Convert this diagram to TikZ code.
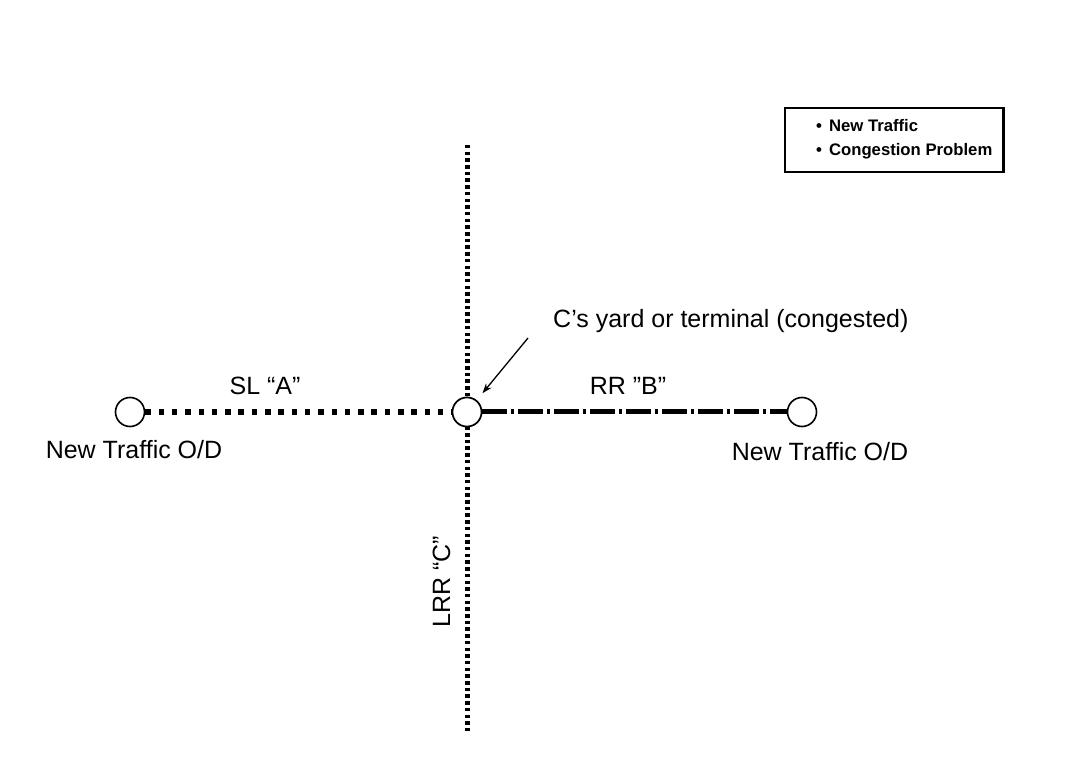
\documentclass[tikz,border=0pt]{standalone}
\usepackage{fontspec}
\setmainfont{Liberation Sans}
\usetikzlibrary{arrows.meta}
\begin{document}
\begin{tikzpicture}[x=1pt,y=-1pt,
  stn/.style={circle,draw,line width=1.6pt,minimum size=29pt,inner sep=0pt,fill=white},
  lbl/.style={font=\fontsize{25}{27}\selectfont,inner sep=0pt,anchor=base},
  lgd/.style={font=\bfseries\fontsize{16.7}{18}\selectfont,inner sep=0pt,anchor=base west},
  slA/.style={line width=5.5pt,dash pattern=on 5.5pt off 7.8pt},
  rrB/.style={line width=5pt,dash pattern=on 25pt off 4pt on 3pt off 4pt},
  lrrC/.style={line width=5pt,dash pattern=on 3.5pt off 3.2pt}]
\useasboundingbox (0,0) rectangle (1069,775);
\fill[white] (0,0) rectangle (1069,775);
% vertical line
\coordinate (vtop) at (467,145);
\coordinate (vbot) at (467,733);
\draw[lrrC] (vtop) -- (vbot);
% stations
\node[stn] (L) at (130,412) {};
\node[stn] (M) at (467,412) {};
\node[stn] (R) at (802,412) {};
\draw[slA] (L.east) -- (M.west);
\draw[rrB] (M.east) -- (R.west);
\node[stn] at (M) {};
% labels
\node[lbl] (la) at (265,395) {SL “A”};
\node[lbl] (lb) at (628,395) {RR "B"};
\node[lbl] (ntl) at (134,459) {New Traffic O/D};
\node[lbl] (ntr) at (820,461) {New Traffic O/D};
\node[lbl,anchor=base west] (cy) at (553,328) {C's yard or terminal (congested)};
\node[lbl,rotate=90] (lc) at (450,582) {LRR “C”};
% arrow
\coordinate (as) at (528,338);
\draw[line width=1.3pt,shorten >=9pt,-{Stealth[length=10pt,width=7pt]}] (as) -- (M);
% legend
\node[draw,line width=1.2pt,minimum width=218pt,minimum height=64pt,inner sep=0pt] (box) at (894,140) {};
\draw[line width=3pt] (box.north east) -- (box.south east);
\node[lgd] (l1) at (816,132) {•\hspace{7pt}New Traffic};
\node[lgd] (l2) at (816,156) {•\hspace{7pt}Congestion Problem};
\end{tikzpicture}
\end{document}
